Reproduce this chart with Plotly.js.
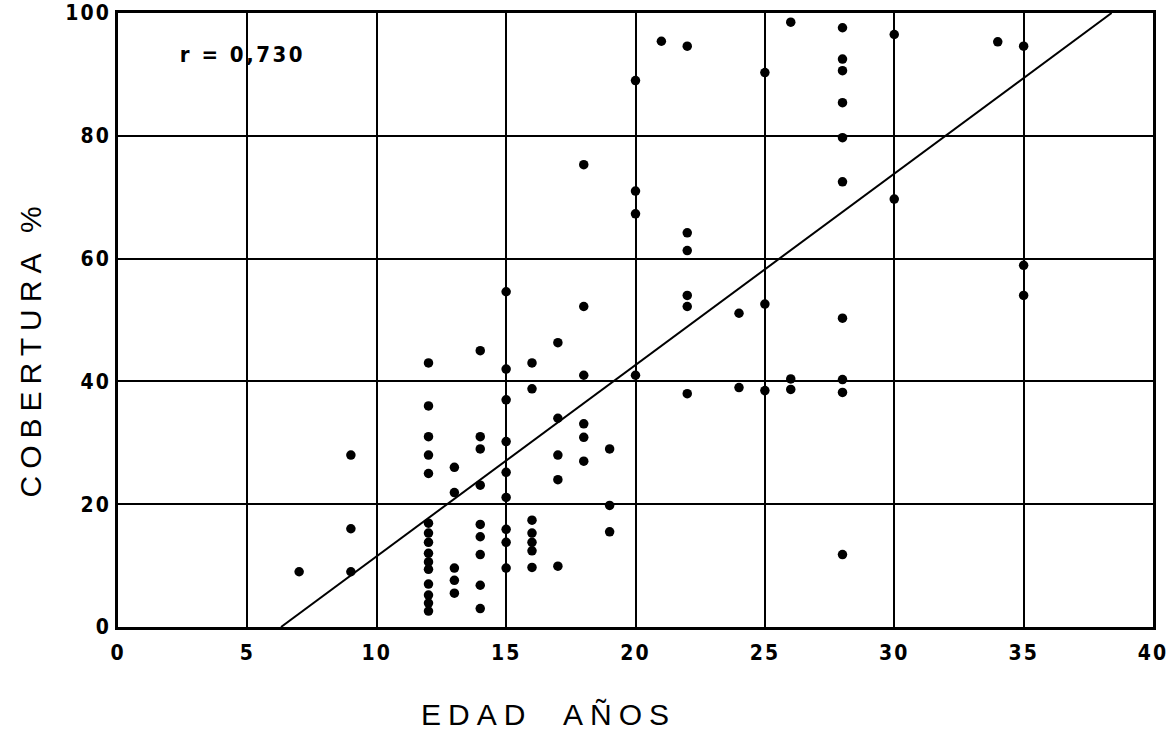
<!DOCTYPE html>
<html>
<head>
<meta charset="utf-8">
<script src="https://cdn.plot.ly/plotly-3.0.1.min.js"></script>
<style>
html, body { margin: 0; padding: 0; background: #fff; }
#chart { width: 1170px; height: 732px; }
.xtick text, .ytick text { letter-spacing: 2px; }
</style>
</head>
<body>
<div id="chart"></div>
<script>
// Data: age (years) and coverage (%)
const edad = [
  7,
  9, 9, 9,
  12, 12, 12, 12, 12, 12, 12, 12, 12, 12, 12, 12, 12, 12, 12,
  13, 13, 13, 13, 13,
  14, 14, 14, 14, 14, 14, 14, 14, 14,
  15, 15, 15, 15, 15, 15, 15, 15, 15,
  16, 16, 16, 16, 16, 16, 16,
  17, 17, 17, 17, 17,
  18, 18, 18, 18, 18, 18,
  19, 19, 19,
  20, 20, 20, 20,
  21,
  22, 22, 22, 22, 22, 22,
  24, 24,
  25, 25, 25,
  26, 26, 26,
  28, 28, 28, 28, 28, 28, 28, 28, 28, 28,
  30, 30,
  34,
  35, 35, 35
];
const cobertura = [
  9,
  28, 16, 9,
  43, 36, 31, 28, 25, 16.9, 15.3, 13.8, 12, 10.6, 9.4, 7, 5.2, 3.9, 2.6,
  26, 21.9, 9.6, 7.6, 5.5,
  45, 31, 29, 23.1, 16.7, 14.7, 11.8, 6.8, 3,
  54.6, 42, 37, 30.2, 25.2, 21.1, 15.9, 13.8, 9.6,
  43, 38.8, 17.4, 15.3, 13.8, 12.4, 9.7,
  46.3, 34, 28, 24, 9.9,
  75.3, 52.2, 41, 33.1, 30.9, 27,
  29, 19.8, 15.5,
  89, 71, 67.3, 41,
  95.4,
  94.6, 64.2, 61.3, 54, 52.2, 38,
  51.1, 39,
  90.3, 52.6, 38.5,
  98.5, 40.4, 38.7,
  97.6, 92.5, 90.6, 85.4, 79.7, 72.5, 50.3, 40.3, 38.2, 11.8,
  96.5, 69.7,
  95.3,
  94.6, 58.9, 54
];
// Regression line end points
const ajusteX = [6.3, 38.4];
const ajusteY = [0, 100];

const xTicks = [0, 5, 10, 15, 20, 25, 30, 35, 40];
const xTickText = ["0", "5", "10", "15", "20", "25", "30", "35", "40"];
const yTicks = [0, 20, 40, 60, 80, 100];
const yTickText = ["0", "20", "40", "60", "80", "100"];

const tickFont = {
  family: "DejaVu Sans Condensed, Liberation Sans Narrow, Roboto Condensed, DejaVu Sans, sans-serif",
  size: 21, weight: 700, color: "#000"
};
const titleFont = { family: "Liberation Sans, Arial, sans-serif", size: 30, color: "#000" };

const traces = [
  {
    x: edad, y: cobertura, type: "scatter", mode: "markers",
    marker: { color: "#000", size: 9.5, line: { width: 0 } },
    hoverinfo: "skip", showlegend: false
  },
  {
    x: ajusteX, y: ajusteY, type: "scatter", mode: "lines",
    line: { color: "#000", width: 2 },
    hoverinfo: "skip", showlegend: false
  }
];

const axisCommon = {
  showgrid: true, gridcolor: "#000", gridwidth: 2,
  showline: true, mirror: true, linecolor: "#000", linewidth: 3,
  zeroline: false, ticks: "", tickfont: tickFont, fixedrange: true
};

const layout = {
  width: 1170, height: 732,
  margin: { l: 118, r: 17, t: 13, b: 105 },
  paper_bgcolor: "#fff", plot_bgcolor: "#fff",
  showlegend: false,
  xaxis: Object.assign({}, axisCommon, {
    range: [0, 40], tickmode: "array", tickvals: xTicks, ticktext: xTickText,
    ticklabelstandoff: 5
  }),
  yaxis: Object.assign({}, axisCommon, {
    range: [0, 100], tickmode: "array", tickvals: yTicks, ticktext: yTickText,
    ticklabelstandoff: 0
  }),
  annotations: [
    {
      text: "r = 0,730", x: 4.8, y: 93.2, xref: "x", yref: "y",
      showarrow: false, xanchor: "center", yanchor: "middle",
      font: { family: tickFont.family, size: 22, weight: 700, color: "#000" }
    },
    {
      text: "EDAD\u00a0\u00a0AÑOS", x: 0.416, y: -0.143, xref: "paper", yref: "paper",
      showarrow: false, xanchor: "center", yanchor: "middle", font: titleFont
    },
    {
      text: "COBERTURA %", x: -0.084, y: 0.453, xref: "paper", yref: "paper",
      showarrow: false, xanchor: "center", yanchor: "middle", textangle: -90, font: titleFont
    }
  ]
};

Plotly.newPlot("chart", traces, layout, { staticPlot: true, displayModeBar: false }).then(function () {
  const anns = document.querySelectorAll(".annotation-text");
  const spacing = ["2.5px", "7px", "7px"];
  anns.forEach(function (t, i) { t.style.letterSpacing = spacing[i] || "0px"; });
});
</script>
</body>
</html>
